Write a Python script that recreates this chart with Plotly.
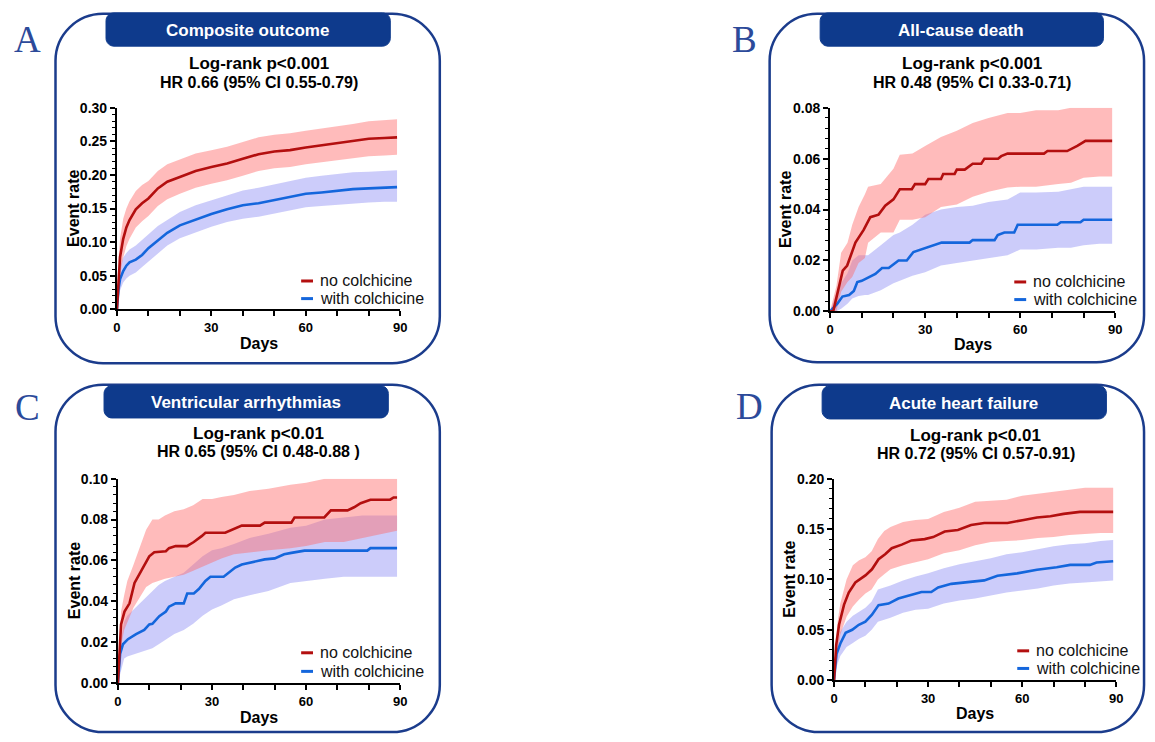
import plotly.graph_objects as go

W, H = 1155, 742

# ---------------- DATA ----------------
# Panel A: Composite outcome
A_days = [0, 0.5, 1, 2, 3, 4, 6, 8, 10, 13, 16, 20, 25, 30, 35, 40, 45, 50, 55, 60, 65, 70, 75, 80, 85, 89]
A_no = [0, 0.05, 0.078, 0.105, 0.122, 0.133, 0.149, 0.158, 0.165, 0.180, 0.190, 0.197, 0.206, 0.212, 0.217, 0.224, 0.231, 0.235, 0.237, 0.241, 0.244, 0.247, 0.250, 0.254, 0.255, 0.256]
A_no_hi = [0, 0.075, 0.105, 0.135, 0.150, 0.161, 0.176, 0.185, 0.191, 0.206, 0.216, 0.223, 0.232, 0.237, 0.242, 0.249, 0.256, 0.260, 0.262, 0.266, 0.269, 0.272, 0.276, 0.280, 0.282, 0.283]
A_no_lo = [0, 0.028, 0.052, 0.077, 0.094, 0.105, 0.122, 0.131, 0.139, 0.154, 0.164, 0.172, 0.181, 0.187, 0.192, 0.199, 0.206, 0.210, 0.212, 0.216, 0.219, 0.222, 0.225, 0.228, 0.229, 0.230]
A_with = [0, 0.030, 0.045, 0.057, 0.065, 0.070, 0.074, 0.081, 0.091, 0.103, 0.114, 0.125, 0.134, 0.142, 0.149, 0.155, 0.158, 0.163, 0.168, 0.172, 0.174, 0.177, 0.179, 0.180, 0.181, 0.182]
A_with_hi = [0, 0.050, 0.065, 0.077, 0.084, 0.089, 0.095, 0.103, 0.112, 0.124, 0.133, 0.145, 0.155, 0.162, 0.170, 0.177, 0.181, 0.186, 0.192, 0.196, 0.199, 0.202, 0.204, 0.205, 0.206, 0.207]
A_with_lo = [0, 0.015, 0.028, 0.040, 0.046, 0.050, 0.055, 0.063, 0.071, 0.082, 0.095, 0.106, 0.115, 0.123, 0.130, 0.135, 0.138, 0.143, 0.148, 0.152, 0.154, 0.156, 0.158, 0.159, 0.160, 0.160]

# Panel B: All-cause death
B_no_days = [0, 1, 4, 5.4, 8, 10.6, 12.7, 15.3, 17.4, 20, 22, 25.8, 26.8, 30, 31, 35, 35.7, 39.3, 40, 42.5, 45, 47.7, 48.7, 53, 54, 56, 67.5, 68.6, 74.8, 76.4, 78, 80.6, 89]
B_no = [0, 0, 0.016, 0.018, 0.027, 0.032, 0.037, 0.038, 0.0415, 0.044, 0.048, 0.048, 0.050, 0.050, 0.052, 0.052, 0.054, 0.054, 0.0557, 0.0557, 0.058, 0.058, 0.060, 0.060, 0.061, 0.062, 0.062, 0.063, 0.063, 0.064, 0.065, 0.067, 0.067]
B_with_days = [0, 2.3, 3.9, 6, 7.5, 8.6, 10, 12.2, 14.3, 16.4, 18.5, 21.6, 24.2, 26.3, 28.9, 31.5, 35.2, 44, 45, 51.9, 52.9, 55, 58.1, 59.2, 71.7, 72.8, 79, 80, 89]
B_with = [0, 0.003, 0.0058, 0.0064, 0.008, 0.0115, 0.012, 0.0134, 0.0147, 0.017, 0.017, 0.020, 0.020, 0.0233, 0.0243, 0.0256, 0.027, 0.027, 0.028, 0.028, 0.030, 0.031, 0.031, 0.034, 0.034, 0.035, 0.035, 0.036, 0.036]
B_band_days = [0, 2, 3.5, 5.5, 7, 9, 11, 12, 16, 20, 22, 26, 30, 35, 40, 45, 50, 56, 60, 65, 72, 76, 80, 85, 89]
B_no_hi = [0, 0.010, 0.023, 0.027, 0.034, 0.041, 0.046, 0.049, 0.050, 0.056, 0.0615, 0.062, 0.065, 0.0685, 0.071, 0.074, 0.076, 0.078, 0.078, 0.079, 0.079, 0.080, 0.080, 0.080, 0.080]
B_no_lo = [0, 0.0, 0.0077, 0.0115, 0.0135, 0.019, 0.021, 0.027, 0.031, 0.031, 0.036, 0.036, 0.037, 0.041, 0.042, 0.045, 0.047, 0.0487, 0.049, 0.049, 0.050, 0.0505, 0.0525, 0.053, 0.053]
B_with_hi = [0, 0.007, 0.011, 0.015, 0.020, 0.022, 0.022, 0.022, 0.026, 0.030, 0.031, 0.034, 0.038, 0.040, 0.041, 0.0415, 0.043, 0.044, 0.0467, 0.0467, 0.047, 0.048, 0.049, 0.049, 0.049]
B_with_lo = [0, 0, 0.001, 0.003, 0.005, 0.006, 0.0064, 0.0064, 0.0083, 0.011, 0.012, 0.014, 0.0154, 0.018, 0.019, 0.020, 0.021, 0.022, 0.0243, 0.0243, 0.025, 0.025, 0.026, 0.0266, 0.0266]

# Panel C: Ventricular arrhythmias
C_no_days = [0, 1, 2.1, 3.7, 5.3, 6.8, 8.4, 10, 11.6, 15.3, 16.3, 18.4, 22, 24.2, 26.8, 27.9, 34.2, 36.3, 39.5, 45.3, 46.8, 55.3, 56.3, 65.8, 67.9, 73.2, 75.3, 77.4, 80.5, 86.8, 87.9, 89]
C_no = [0, 0.0287, 0.035, 0.039, 0.049, 0.053, 0.057, 0.062, 0.064, 0.0645, 0.066, 0.067, 0.067, 0.069, 0.072, 0.0735, 0.0735, 0.075, 0.077, 0.077, 0.0785, 0.0785, 0.081, 0.081, 0.0845, 0.0845, 0.086, 0.088, 0.0897, 0.0897, 0.0908, 0.0908]
C_with_days = [0, 0.7, 1.6, 3.2, 5.8, 8.4, 10, 11, 13.2, 15.3, 16.3, 18.4, 21, 22.1, 24.2, 25.8, 27.9, 29.5, 33.7, 35.3, 37.4, 39.5, 42.6, 46.8, 50, 53, 55.3, 59.5, 79.5, 80.5, 89]
C_with = [0, 0.0143, 0.019, 0.0215, 0.024, 0.026, 0.0287, 0.029, 0.0327, 0.035, 0.0374, 0.039, 0.039, 0.0438, 0.0438, 0.046, 0.050, 0.052, 0.052, 0.054, 0.0565, 0.058, 0.059, 0.0605, 0.061, 0.063, 0.0637, 0.0648, 0.0648, 0.066, 0.066]
C_band_days = [0, 1, 2, 3, 5, 7, 9, 11, 13, 15, 18, 21, 24, 27, 30, 33, 37, 42, 48, 55, 60, 66, 72, 78, 84, 89]
C_no_hi = [0, 0.035, 0.043, 0.050, 0.058, 0.066, 0.075, 0.080, 0.080, 0.082, 0.084, 0.085, 0.087, 0.090, 0.090, 0.091, 0.092, 0.094, 0.095, 0.097, 0.098, 0.100, 0.100, 0.100, 0.100, 0.100]
C_no_lo = [0, 0.018, 0.026, 0.030, 0.037, 0.042, 0.047, 0.049, 0.050, 0.051, 0.052, 0.053, 0.055, 0.057, 0.059, 0.061, 0.063, 0.064, 0.065, 0.066, 0.067, 0.069, 0.069, 0.071, 0.073, 0.0745]
C_with_hi = [0, 0.022, 0.030, 0.033, 0.036, 0.039, 0.042, 0.045, 0.048, 0.050, 0.052, 0.054, 0.058, 0.062, 0.065, 0.066, 0.068, 0.071, 0.073, 0.076, 0.077, 0.080, 0.081, 0.082, 0.082, 0.082]
C_with_lo = [0, 0.006, 0.012, 0.013, 0.014, 0.015, 0.016, 0.017, 0.019, 0.021, 0.024, 0.026, 0.029, 0.033, 0.036, 0.038, 0.041, 0.043, 0.045, 0.049, 0.050, 0.051, 0.052, 0.052, 0.052, 0.052]

# Panel D: Acute heart failure
D_no_days = [0, 0.7, 1.6, 3.2, 4.7, 6.8, 10, 12.1, 14.2, 16.3, 18.4, 21.6, 24.7, 28.9, 31.6, 35.3, 39.5, 43.7, 47.9, 55.3, 60.5, 64.7, 69, 73.2, 78.4, 89]
D_no = [0, 0.035, 0.055, 0.075, 0.087, 0.097, 0.104, 0.110, 0.120, 0.125, 0.131, 0.1345, 0.1387, 0.140, 0.142, 0.1475, 0.149, 0.154, 0.156, 0.156, 0.159, 0.1614, 0.1627, 0.165, 0.167, 0.167]
D_with_days = [0, 0.8, 2.1, 3.7, 5.8, 7.9, 10, 12.1, 14.2, 17.4, 20.5, 23.7, 27.9, 31, 33.2, 37.4, 43.7, 47.9, 52.1, 58.4, 64.7, 71, 75.3, 81.6, 83.7, 89]
D_with = [0, 0.026, 0.037, 0.047, 0.050, 0.055, 0.058, 0.065, 0.0745, 0.076, 0.081, 0.084, 0.0875, 0.0875, 0.092, 0.0956, 0.098, 0.099, 0.1037, 0.106, 0.1096, 0.112, 0.1144, 0.1144, 0.1167, 0.118]
D_band_days = [0, 1, 2, 4, 6, 8, 10, 12, 14, 16, 18, 22, 26, 30, 35, 40, 45, 50, 55, 60, 65, 70, 75, 80, 85, 89]
D_no_hi = [0, 0.055, 0.076, 0.100, 0.114, 0.119, 0.122, 0.128, 0.140, 0.148, 0.152, 0.157, 0.159, 0.160, 0.167, 0.171, 0.177, 0.178, 0.179, 0.183, 0.185, 0.187, 0.189, 0.191, 0.191, 0.191]
D_no_lo = [0, 0.025, 0.045, 0.063, 0.073, 0.080, 0.086, 0.090, 0.100, 0.105, 0.110, 0.114, 0.117, 0.120, 0.126, 0.129, 0.134, 0.137, 0.138, 0.139, 0.141, 0.142, 0.144, 0.145, 0.146, 0.146]
D_with_hi = [0, 0.038, 0.048, 0.058, 0.064, 0.068, 0.072, 0.078, 0.090, 0.092, 0.094, 0.099, 0.103, 0.106, 0.111, 0.115, 0.118, 0.121, 0.125, 0.127, 0.130, 0.133, 0.135, 0.136, 0.138, 0.139]
D_with_lo = [0, 0.015, 0.024, 0.033, 0.037, 0.041, 0.044, 0.050, 0.058, 0.060, 0.062, 0.067, 0.070, 0.071, 0.076, 0.079, 0.081, 0.084, 0.087, 0.089, 0.091, 0.094, 0.096, 0.097, 0.098, 0.099]

titles = ["Composite outcome", "All-cause death", "Ventricular arrhythmias", "Acute heart failure"]
letters = ["A", "B", "C", "D"]
logrank = ["Log-rank p<0.001", "Log-rank p<0.001", "Log-rank p<0.01", "Log-rank p<0.01"]
hr_text = ["HR 0.66 (95% CI 0.55-0.79)", "HR 0.48 (95% CI 0.33-0.71)",
           "HR 0.65 (95% CI 0.48-0.88 )", "HR 0.72 (95% CI 0.57-0.91)"]
y_max = [0.30, 0.08, 0.10, 0.20]
y_major = [0.05, 0.02, 0.02, 0.05]
y_minor = [0.01, 0.004, 0.004, 0.01]
x_ticks = [0, 30, 60, 90]
legend_labels = ["no colchicine", "with colchicine"]

panels = [
    dict(no_d=A_days, no=A_no, with_d=A_days, with_=A_with, band_no_d=A_days, band_with_d=A_days,
         no_hi=A_no_hi, no_lo=A_no_lo, with_hi=A_with_hi, with_lo=A_with_lo),
    dict(no_d=B_no_days, no=B_no, with_d=B_with_days, with_=B_with, band_no_d=B_band_days, band_with_d=B_band_days,
         no_hi=B_no_hi, no_lo=B_no_lo, with_hi=B_with_hi, with_lo=B_with_lo),
    dict(no_d=C_no_days, no=C_no, with_d=C_with_days, with_=C_with, band_no_d=C_band_days, band_with_d=C_band_days,
         no_hi=C_no_hi, no_lo=C_no_lo, with_hi=C_with_hi, with_lo=C_with_lo),
    dict(no_d=D_no_days, no=D_no, with_d=D_with_days, with_=D_with, band_no_d=D_band_days, band_with_d=D_band_days,
         no_hi=D_no_hi, no_lo=D_no_lo, with_hi=D_with_hi, with_lo=D_with_lo),
]

# ---------------- STYLE / LAYOUT (pixels) ----------------
RED = "#B30F0F"
BLUE = "#1466DC"
RED_FILL = "rgba(255,105,105,0.45)"
BLUE_FILL = "rgba(110,110,240,0.35)"
NAVY = "#0E3A8C"
BOXC = "#1B3C8C"
FONT = "Liberation Sans"

# plot area pixel boxes: (x0, x1, ytop, ybottom)
plot_px = [(114, 400, 102, 308), (834, 1122, 102, 310), (115, 400, 481, 690), (838, 1123, 481, 687)]
box_px = [(52, 6, 440, 363), (773, 6, 1151, 362), (52, 385, 440, 740), (775, 385, 1151, 740)]
tab_px = [(103, 5, 390, 39), (824, 5, 1110, 39), (101, 386, 388, 419), (826, 386, 1113, 420)]
tab_text_xy = [(246, 23), (966, 23), (244, 403), (969, 404)]
letter_xy = [(24, 32), (748, 32), (24, 408), (753, 407)]
stats_xy = [(257, 57, 76), (977, 57, 76), (257, 435, 453), (981, 437, 455)]
ylabel_x = [70, 789, 72, 793]
days_y = [343, 344, 725, 721]
legend_px = [(300, 279, 297), (1020, 280, 298), (300, 659, 678), (1023, 657, 675)]


def px(x):
    return x / W


def py(y):
    return 1 - y / H


def P(x, y):
    return f"{px(x):.5f},{py(y):.5f}"


def rrect(x0, y0, x1, y1, r):
    k = 0.4477 * r  # r*(1-0.5523)
    return (f"M {P(x0 + r, y0)} L {P(x1 - r, y0)} "
            f"C {P(x1 - k, y0)} {P(x1, y0 + k)} {P(x1, y0 + r)} "
            f"L {P(x1, y1 - r)} C {P(x1, y1 - k)} {P(x1 - k, y1)} {P(x1 - r, y1)} "
            f"L {P(x0 + r, y1)} C {P(x0 + k, y1)} {P(x0, y1 - k)} {P(x0, y1 - r)} "
            f"L {P(x0, y0 + r)} C {P(x0, y0 + k)} {P(x0 + k, y0)} {P(x0 + r, y0)} Z")


fig = go.Figure()
shapes = []
annotations = []
layout = {}

for i, p in enumerate(panels):
    n = i + 1
    xa = "x" if n == 1 else f"x{n}"
    ya = "y" if n == 1 else f"y{n}"
    # CI bands
    fig.add_trace(go.Scatter(x=p["band_with_d"], y=p["with_lo"], xaxis=xa, yaxis=ya, mode="lines",
                             line=dict(width=0, color=BLUE_FILL), showlegend=False, hoverinfo="skip"))
    fig.add_trace(go.Scatter(x=p["band_with_d"], y=p["with_hi"], xaxis=xa, yaxis=ya, mode="lines",
                             line=dict(width=0, color=BLUE_FILL), fill="tonexty", fillcolor=BLUE_FILL,
                             showlegend=False, hoverinfo="skip"))
    fig.add_trace(go.Scatter(x=p["band_no_d"], y=p["no_lo"], xaxis=xa, yaxis=ya, mode="lines",
                             line=dict(width=0, color=RED_FILL), showlegend=False, hoverinfo="skip"))
    fig.add_trace(go.Scatter(x=p["band_no_d"], y=p["no_hi"], xaxis=xa, yaxis=ya, mode="lines",
                             line=dict(width=0, color=RED_FILL), fill="tonexty", fillcolor=RED_FILL,
                             showlegend=False, hoverinfo="skip"))
    # lines
    fig.add_trace(go.Scatter(x=p["with_d"], y=p["with_"], xaxis=xa, yaxis=ya, mode="lines",
                             line=dict(width=2.6, color=BLUE), name=legend_labels[1], showlegend=False))
    fig.add_trace(go.Scatter(x=p["no_d"], y=p["no"], xaxis=xa, yaxis=ya, mode="lines",
                             line=dict(width=2.6, color=RED), name=legend_labels[0], showlegend=False))

    x0, x1, yt, yb = plot_px[i]
    axis_common = dict(showline=True, linecolor="black", linewidth=2, showgrid=False, zeroline=False,
                       ticks="outside", ticklen=5, tickwidth=1.5, tickcolor="black")
    layout["xaxis" if n == 1 else f"xaxis{n}"] = dict(
        axis_common, domain=[px(x0), px(x1)], anchor=ya, range=[0, 90],
        tickvals=x_ticks, ticktext=[str(v) for v in x_ticks],
        tickfont=dict(family=FONT, size=13, color="black", weight="bold"),
        minor=dict(dtick=10, tick0=0, ticks="outside", ticklen=5, tickwidth=1.5, tickcolor="black", showgrid=False),
    )
    layout["yaxis" if n == 1 else f"yaxis{n}"] = dict(
        axis_common, domain=[py(yb), py(yt)], anchor=xa, range=[0, y_max[i]],
        tick0=0, dtick=y_major[i], tickformat=".2f",
        tickfont=dict(family=FONT, size=14, color="black", weight="bold"),
        minor=dict(dtick=y_minor[i], tick0=0, ticks="outside", ticklen=3, tickwidth=1.2, tickcolor="black", showgrid=False),
    )

    # panel box
    bx0, by0, bx1, by1 = box_px[i]
    shapes.append(dict(type="path", xref="paper", yref="paper", path=rrect(bx0, by0, bx1, by1, 48),
                       line=dict(color=BOXC, width=2.5), fillcolor="rgba(0,0,0,0)"))
    tx0, ty0, tx1, ty1 = tab_px[i]
    shapes.append(dict(type="path", xref="paper", yref="paper", path=rrect(tx0, ty0, tx1, ty1, 8),
                       line=dict(color=NAVY, width=1), fillcolor=NAVY))
    annotations.append(dict(x=px(tab_text_xy[i][0]), y=py(tab_text_xy[i][1]), xref="paper", yref="paper",
                            text=f"<b>{titles[i]}</b>", showarrow=False, xanchor="center", yanchor="middle",
                            font=dict(family=FONT, size=17, color="white")))
    annotations.append(dict(x=px(letter_xy[i][0]), y=py(letter_xy[i][1]), xref="paper", yref="paper",
                            text=letters[i], showarrow=False, xanchor="center", yanchor="middle",
                            font=dict(family="Liberation Serif", size=37, color="#2C4A9A")))
    sx, s1, s2 = stats_xy[i]
    annotations.append(dict(x=px(sx), y=py(s1), xref="paper", yref="paper", text=f"<b>{logrank[i]}</b>",
                            showarrow=False, xanchor="center", yanchor="middle",
                            font=dict(family=FONT, size=17, color="black")))
    annotations.append(dict(x=px(sx), y=py(s2), xref="paper", yref="paper", text=f"<b>{hr_text[i]}</b>",
                            showarrow=False, xanchor="center", yanchor="middle",
                            font=dict(family=FONT, size=16, color="black")))
    annotations.append(dict(x=px(ylabel_x[i]), y=py((yt + yb) / 2), xref="paper", yref="paper",
                            text="<b>Event rate</b>", textangle=-90, showarrow=False,
                            xanchor="center", yanchor="middle", font=dict(family=FONT, size=16, color="black")))
    annotations.append(dict(x=px((x0 + x1) / 2), y=py(days_y[i]), xref="paper", yref="paper",
                            text="<b>Days</b>", showarrow=False, xanchor="center", yanchor="middle",
                            font=dict(family=FONT, size=16, color="black")))
    # legend
    lx, ly1, ly2 = legend_px[i]
    for yy, col, lab in [(ly1, RED, legend_labels[0]), (ly2, BLUE, legend_labels[1])]:
        shapes.append(dict(type="line", xref="paper", yref="paper", x0=px(lx), x1=px(lx + 12),
                           y0=py(yy), y1=py(yy), line=dict(color=col, width=3)))
        annotations.append(dict(x=px(lx + 17), y=py(yy), xref="paper", yref="paper", text=lab,
                                showarrow=False, xanchor="left", yanchor="middle",
                                font=dict(family=FONT, size=16, color="#111111")))

fig.update_layout(
    width=W, height=H, margin=dict(l=0, r=0, t=0, b=0),
    paper_bgcolor="white", plot_bgcolor="rgba(0,0,0,0)",
    showlegend=False, shapes=shapes, annotations=annotations, **layout,
)

fig.write_html("out.html", config={"displayModeBar": False},
               post_script="document.body.style.margin='0px';")
